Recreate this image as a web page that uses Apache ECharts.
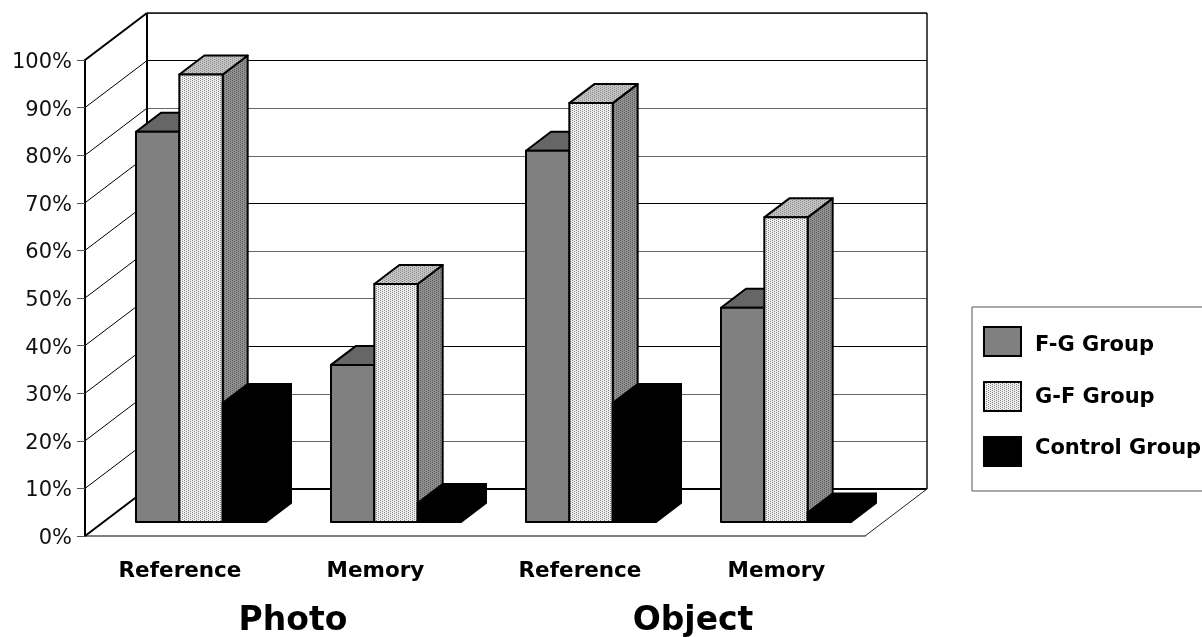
<!DOCTYPE html>
<html>
<head>
<meta charset="utf-8">
<title>Reference and memory by group</title>
<script src="https://cdn.jsdelivr.net/npm/echarts@6/dist/echarts.min.js"></script>
<style>
  html, body { margin: 0; padding: 0; background: #fff; }
  #chart { width: 1202px; height: 637px; }
</style>
</head>
<body>
<div id="chart"></div>
<script>
const categories = ['Reference', 'Memory', 'Reference', 'Memory'];
const groupNames = ['Photo', 'Object'];
const seriesNames = ['F-G Group', 'G-F Group', 'Control Group'];
const fgValues = [82, 33, 78, 45];
const gfValues = [94, 50, 88, 64];
const controlValues = [25, 4, 25, 2];
const yTicks = [0, 10, 20, 30, 40, 50, 60, 70, 80, 90, 100];

const FONT = '"DejaVu Sans", Verdana, sans-serif';
// wall depth and bar depth in px
const wallDX = 62, wallDY = 47;
const barOffX = 18.5, barOffY = 14;
const barDX = 25, barDY = 19;
const gapWidth = 0.5;

// small dither tiles, the old office chart look
function dither(bg, fg) {
  const c = document.createElement('canvas');
  c.width = 4; c.height = 4;
  const g = c.getContext('2d');
  g.fillStyle = bg;
  g.fillRect(0, 0, 4, 4);
  g.fillStyle = fg;
  [[0, 0], [2, 1], [0, 2], [2, 3]].forEach(p => g.fillRect(p[0], p[1], 1, 1));
  return c;
}
const pat = (bg, fg) => ({ image: dither(bg, fg), repeat: 'repeat' });

const palettes = [
  { front: '#808080', top: '#666666', side: '#555555' },
  { front: pat('#eeeeee', '#888888'), top: pat('#c4c4c4', '#8c8c8c'), side: pat('#909090', '#5c5c5c') },
  { front: '#000000', top: '#000000', side: '#000000' }
];

function barItem(idx) {
  return function (params, api) {
    const cat = api.value(0);
    const band = api.size([1, 0])[0];
    const w = band / (seriesNames.length + gapWidth * 3);
    const centre = api.coord([cat, 0])[0];
    const x0 = centre - (w * seriesNames.length) / 2 + idx * w + barOffX;
    const x1 = x0 + w;
    const y0 = api.coord([cat, 0])[1] - barOffY;
    const y1 = api.coord([cat, api.value(1)])[1] - barOffY;
    const p = palettes[idx];
    const stroke = { stroke: '#000', lineWidth: 2, lineJoin: 'round' };
    const face = (points, fill) => ({
      type: 'polygon',
      shape: { points },
      style: Object.assign({ fill }, stroke)
    });
    return {
      type: 'group',
      children: [
        face([[x1, y0], [x1 + barDX, y0 - barDY], [x1 + barDX, y1 - barDY], [x1, y1]], p.side),
        face([[x0, y1], [x0 + barDX, y1 - barDY], [x1 + barDX, y1 - barDY], [x1, y1]], p.top),
        face([[x0, y0], [x1, y0], [x1, y1], [x0, y1]], p.front)
      ]
    };
  };
}

// diagonal lines on the left wall, one per tick
function wallItem(params, api) {
  const v = api.value(0);
  const y = api.coord([0, v])[1];
  const x = params.coordSys.x;
  const heavy = v === 0 || v === 100;
  return {
    type: 'line',
    shape: { x1: x, y1: y, x2: x + wallDX, y2: y - wallDY },
    style: { stroke: '#000', lineWidth: heavy ? 2 : 1 }
  };
}

// closing edges of the box, the axes do not give these
function frameItem(params, api) {
  const c = params.coordSys;
  const right = c.x + c.width, bottom = c.y + c.height;
  return {
    type: 'group',
    children: [
      { type: 'line', shape: { x1: c.x + wallDX, y1: c.y - wallDY, x2: right + wallDX, y2: c.y - wallDY }, style: { stroke: '#111', lineWidth: 1.5 } },
      { type: 'line', shape: { x1: right + wallDX, y1: c.y - wallDY, x2: right + wallDX, y2: bottom - wallDY }, style: { stroke: '#111', lineWidth: 1.5 } },
      { type: 'line', shape: { x1: c.x + wallDX, y1: c.y - wallDY, x2: c.x + wallDX, y2: bottom - wallDY }, style: { stroke: '#000', lineWidth: 2 } },
      { type: 'line', shape: { x1: c.x + wallDX, y1: bottom - wallDY, x2: right + wallDX, y2: bottom - wallDY }, style: { stroke: '#000', lineWidth: 2 } },
      { type: 'line', shape: { x1: right, y1: bottom, x2: right + wallDX, y2: bottom - wallDY }, style: { stroke: '#222', lineWidth: 1 } }
    ]
  };
}

const chart = echarts.init(document.getElementById('chart'), null, { renderer: 'canvas' });

const barSeries = seriesNames.map((name, idx) => ({
  name,
  type: 'custom',
  xAxisIndex: 0,
  yAxisIndex: 0,
  z: 5,
  itemStyle: { color: palettes[idx].front, borderColor: '#000', borderWidth: 1 },
  renderItem: barItem(idx),
  encode: { x: 0, y: 1 },
  data: [fgValues, gfValues, controlValues][idx].map((v, i) => [i, v])
}));

// the reference labels sit a little off the band centres
const labelRich = {
  l0: { padding: [0, 5, 0, 0] },
  l1: { padding: [0, 4, 0, 0] },
  l2: { padding: [0, 0, 0, 15] },
  l3: { padding: [0, 0, 0, 18] }
};

chart.setOption({
  animation: false,
  backgroundColor: '#fff',
  grid: [
    { left: 85, top: 60, width: 780, height: 476 },
    { left: 85 + wallDX, top: 60 - wallDY, width: 780, height: 476 }
  ],
  xAxis: [
    {
      type: 'category',
      gridIndex: 0,
      data: categories,
      axisLine: { lineStyle: { color: '#555', width: 1.5 } },
      axisTick: { show: false },
      axisLabel: {
        interval: 0,
        hideOverlap: false,
        margin: 24,
        color: '#000',
        fontFamily: FONT,
        fontWeight: 'bold',
        fontSize: 21.5,
        formatter: (v, i) => '{l' + i + '|' + v + '}',
        rich: labelRich
      }
    },
    { type: 'category', gridIndex: 1, data: categories, show: false }
  ],
  yAxis: [
    {
      type: 'value',
      gridIndex: 0,
      min: 0,
      max: 100,
      interval: 10,
      axisLine: { show: true, lineStyle: { color: '#000', width: 2 } },
      axisTick: { show: true, length: 8, lineStyle: { color: '#555', width: 1 } },
      axisLabel: {
        margin: 13,
        color: '#111',
        fontFamily: FONT,
        fontSize: 21,
        formatter: '{t|{value}%}',
        rich: { t: { padding: [5, 0, 0, 0] } }
      },
      splitLine: { show: false }
    },
    {
      type: 'value',
      gridIndex: 1,
      min: 0,
      max: 100,
      interval: 10,
      axisLine: { show: false },
      axisTick: { show: false },
      axisLabel: { show: false },
      splitLine: { show: true, lineStyle: { color: ['#000', '#666', '#666'], width: 1 } }
    }
  ],
  legend: {
    orient: 'vertical',
    left: 972,
    top: 307,
    padding: [19, 10, 24, 11],
    itemWidth: 37,
    itemHeight: 29,
    itemGap: 24,
    backgroundColor: '#fff',
    borderColor: '#555',
    borderWidth: 1,
    formatter: (name) => '{n' + seriesNames.indexOf(name) + '|' + name + '}',
    textStyle: {
      color: '#000',
      fontFamily: FONT,
      fontWeight: 'bold',
      fontSize: 21,
      padding: [0, 0, 0, 9],
      rich: {
        n0: { padding: [8, 0, 0, 0] },
        n1: { padding: [3, 0, 0, 0] },
        n2: { padding: [0, 0, 6, 0] }
      }
    },
    data: seriesNames.map((name) => ({ name, icon: 'rect' }))
  },
  graphic: groupNames.map((text, i) => ({
    type: 'text',
    x: [293, 693][i],
    y: 621,
    style: { text, fill: '#000', font: 'bold 33px ' + FONT, align: 'center', verticalAlign: 'middle' }
  })),
  series: [
    {
      type: 'custom',
      xAxisIndex: 0,
      yAxisIndex: 0,
      z: 3,
      renderItem: wallItem,
      encode: { y: 0 },
      data: yTicks.map(v => [v]),
      silent: true
    },
    {
      type: 'custom',
      xAxisIndex: 0,
      yAxisIndex: 0,
      z: 3,
      renderItem: frameItem,
      data: [[0]],
      silent: true
    }
  ].concat(barSeries)
});
</script>
</body>
</html>
